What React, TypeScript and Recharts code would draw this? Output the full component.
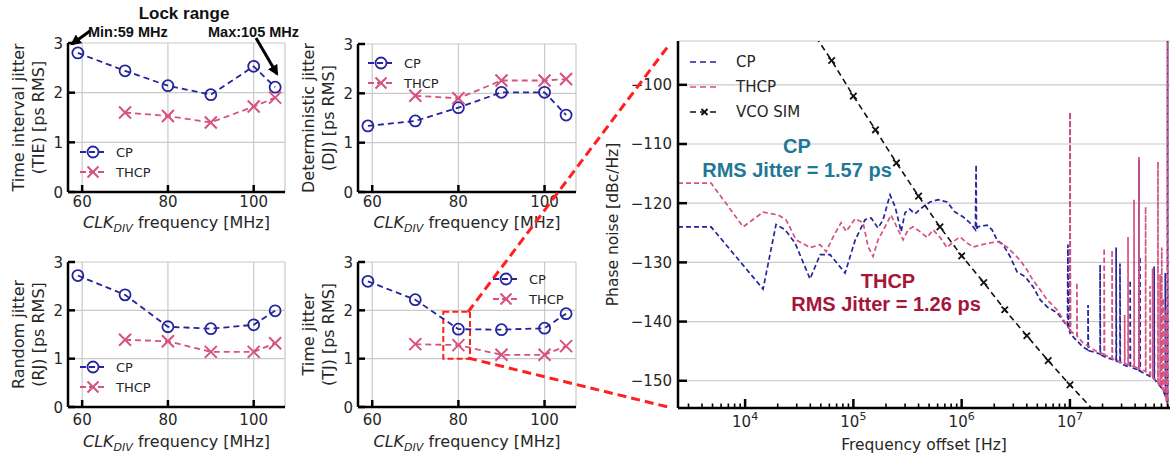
import React from 'react'
import { LineChart, Line, XAxis, YAxis, CartesianGrid, Legend, ReferenceArea } from 'recharts'

// CLK_DIV sweep (MHz) and measured jitter (ps RMS); THCP was not measured at 59 MHz
const freqMHz = [59, 70, 80, 90, 100, 105]
const tieCP = [2.8, 2.44, 2.14, 1.96, 2.53, 2.11]
const tieTHCP = [null, 1.6, 1.53, 1.4, 1.72, 1.9]
const djCP = [1.34, 1.44, 1.71, 2.02, 2.02, 1.56]
const djTHCP = [null, 1.95, 1.9, 2.26, 2.26, 2.29]
const rjCP = [2.72, 2.32, 1.66, 1.62, 1.7, 1.99]
const rjTHCP = [null, 1.39, 1.36, 1.14, 1.14, 1.32]
const tjCP = [2.6, 2.22, 1.61, 1.6, 1.63, 1.93]
const tjTHCP = [null, 1.3, 1.28, 1.08, 1.08, 1.26]
const jitterTicks = [0, 1, 2, 3]
const mhzTicks = [60, 80, 100]

// phase noise at 80 MHz: [offset Hz, dBc/Hz]; spurs are repeated offsets
const cpNoise: [number, number][] = [
  [2400, -124], [4850, -124], [14650, -134.5], [19300, -123.6], [23400, -124.5], [28900, -126.7],
  [39800, -132.8], [49300, -128.7], [61000, -128.7], [83800, -131.8], [104000, -126.2], [128000, -122.8],
  [146000, -122.5], [169000, -124.2], [188000, -122.8], [218000, -118.6], [243000, -120.6], [276000, -124.8],
  [300000, -121.6], [330000, -121], [371000, -121.8], [441000, -120.6], [511000, -119.8], [606000, -119.4],
  [733000, -119.8], [869000, -121.5], [1.03e6, -122.3], [1.19e6, -123.3], [1.34e6, -124.5], [1.36e6, -113.5],
  [1.37e6, -124.5], [1.4e6, -124], [1.72e6, -123.7], [1.91e6, -124.5], [2.12e6, -126.2], [2.41e6, -127],
  [2.8e6, -129], [3.25e6, -131.6], [3.85e6, -132.4], [4.56e6, -134.1], [5.3e6, -136.3], [6.15e6, -137.5],
  [7.6e6, -138.5], [9.5e6, -140.8], [9.58e6, -127], [9.66e6, -141], [1e7, -141.9], [1e7, -104.6],
  [1.01e7, -142.1], [1.32e7, -144.3], [1.47e7, -144.8], [1.47e7, -137.2], [1.48e7, -144.9], [1.78e7, -145.3],
  [1.9e7, -145.5], [1.9e7, -130.4], [1.91e7, -145.6], [2.2e7, -146.1], [2.67e7, -146.6], [2.67e7, -127.5],
  [2.69e7, -146.7], [2.9e7, -146.9], [2.9e7, -130.2], [2.92e7, -147], [3.09e7, -147.3], [3.6e7, -147.7],
  [3.6e7, -133], [3.62e7, -147.7], [4.16e7, -148.1], [4.35e7, -148.2], [4.35e7, -112.7], [4.37e7, -148.3],
  [4.44e7, -148.3], [4.44e7, -129], [4.46e7, -148.4], [5.15e7, -149], [6e7, -149.6], [6e7, -130.7],
  [6.03e7, -149.7], [6.37e7, -150.3], [7.24e7, -151.5], [7.6e7, -152.6], [7.6e7, -131.8], [7.63e7, -152.8],
  [7.95e7, -153.7], [7.98e7, -90], [8.01e7, -154], [8.3e7, -155],
]
const thcpNoise: [number, number][] = [
  [2400, -116.6], [4850, -116.6], [9600, -124], [14650, -121.5], [20200, -122], [23900, -122.8],
  [29600, -126.2], [39800, -127.5], [49300, -127], [56000, -128.2], [65000, -125.7], [77000, -123.3],
  [85700, -124.8], [104000, -122.6], [123000, -123.3], [137000, -127.4], [152000, -129], [169000, -126.2],
  [196000, -124], [223000, -122], [259000, -124.5], [288000, -126.2], [320000, -124.5], [356000, -124],
  [413000, -124.8], [480000, -125.8], [545000, -124.5], [632000, -125.8], [733000, -127.5], [834000, -126.5],
  [967000, -125.7], [1.12e6, -126.7], [1.27e6, -127.4], [1.54e6, -127], [1.83e6, -126.7], [2.17e6, -126.5],
  [2.62e6, -127.4], [2.98e6, -128.4], [3.46e6, -129.6], [4.02e6, -131.3], [4.56e6, -133], [5.3e6, -134.6],
  [6.15e6, -136.3], [7.6e6, -138], [1e7, -141.4], [1e7, -104.6], [1.01e7, -141.6], [1.16e7, -142.4],
  [1.16e7, -133.4], [1.17e7, -142.5], [1.32e7, -143.6], [1.78e7, -145.1], [2.07e7, -145.5], [2.07e7, -127.6],
  [2.09e7, -145.6], [2.35e7, -146.1], [2.45e7, -146.2], [2.45e7, -127.9], [2.47e7, -146.3], [3.09e7, -147],
  [3.2e7, -147.1], [3.2e7, -138.9], [3.22e7, -147.1], [3.44e7, -147.3], [3.44e7, -125.7], [3.46e7, -147.3],
  [3.91e7, -147.6], [3.91e7, -119.4], [3.93e7, -147.6], [4.16e7, -147.8], [4.35e7, -147.9], [4.35e7, -112.2],
  [4.37e7, -148], [5e7, -148.4], [5e7, -120.6], [5.02e7, -148.5], [5.15e7, -148.6], [5.5e7, -149],
  [5.5e7, -134], [5.52e7, -149.1], [5.8e7, -149.4], [5.8e7, -131], [5.82e7, -149.5], [6.37e7, -150.2],
  [6.5e7, -150.3], [6.5e7, -113], [6.52e7, -150.4], [6.8e7, -150.8], [6.8e7, -132], [6.82e7, -150.9],
  [7.05e7, -151.2], [7.05e7, -127.5], [7.07e7, -151.3], [7.3e7, -151.5], [7.3e7, -136], [7.32e7, -151.6],
  [7.5e7, -152], [7.7e7, -152.8], [7.7e7, -138], [7.72e7, -153], [7.95e7, -154.2], [7.98e7, -90],
  [8.01e7, -154.6], [8.3e7, -155.5],
]
const vcoFreq = [4e4, 6.3e4, 1e5, 1.6e5, 2.5e5, 4e5, 6.3e5, 1e6, 1.6e6, 2.5e6, 4e6, 6.3e6, 1e7, 1.6e7]
const vcoNoise = [-90.5, -95.9, -101.9, -107.6, -113.2, -118.8, -124, -128.9, -133.4, -138, -142.4, -146.6, -150.7, -154.7]
const noiseTicks = [-150, -140, -130, -120, -110, -100]
const decades = [1e3, 1e4, 1e5, 1e6, 1e7]
const multiples = [1, 2, 3, 4, 5, 6, 7, 8, 9]

const CP_COLOR = '#24249c'
const THCP_COLOR = '#d6527f'
const TXT = '#262626'
const GRID = '#c9c9c9'
const FRAME = { stroke: '#000', strokeWidth: 2.5 }

const F_MIN = 2400
const F_MAX = 8.4e7
const DB_MIN = -154.6
const DB_MAX = -92.6
const freqTicks = decades.flatMap((d) => multiples.map((m) => m * d)).filter((f) => f >= F_MIN && f <= F_MAX)
const gridDecades = decades.filter((d) => d >= F_MIN && d <= F_MAX)

function XMark({ cx, cy, color, size = 6, width = 2 }: any) {
  if (cx == null || cy == null) return <g />
  return (
    <path
      d={`M${cx - size},${cy - size}L${cx + size},${cy + size}M${cx - size},${cy + size}L${cx + size},${cy - size}`}
      stroke={color}
      strokeWidth={width}
      fill="none"
    />
  )
}

function RingMark({ cx, cy, color, r = 5.5 }: any) {
  if (cx == null || cy == null) return <g />
  return <circle cx={cx} cy={cy} r={r} fill="none" stroke={color} strokeWidth={1.8} />
}

function JitterLegend() {
  return (
    <svg width={100} height={42} style={{ display: 'block' }}>
      <line x1={2} x2={28} y1={10} y2={10} stroke={CP_COLOR} strokeWidth={1.8} strokeDasharray="6 3" />
      <RingMark cx={15} cy={10} color={CP_COLOR} />
      <text x={38} y={15} fontSize={13} fill={TXT}>CP</text>
      <line x1={2} x2={28} y1={30} y2={30} stroke={THCP_COLOR} strokeWidth={1.8} strokeDasharray="6 3" />
      <XMark cx={15} cy={30} color={THCP_COLOR} size={5.5} />
      <text x={38} y={35} fontSize={13} fill={TXT}>THCP</text>
    </svg>
  )
}

function NoiseLegend() {
  const rows = [
    { name: 'CP', color: CP_COLOR, mark: false },
    { name: 'THCP', color: THCP_COLOR, mark: false },
    { name: 'VCO SIM', color: '#111', mark: true },
  ]
  return (
    <svg width={130} height={76} style={{ display: 'block' }}>
      {rows.map((r, i) => (
        <g key={r.name}>
          <line x1={2} x2={31} y1={12 + i * 25} y2={12 + i * 25} stroke={r.color} strokeWidth={1.6} strokeDasharray="6 4" />
          {r.mark && <XMark cx={16.5} cy={12 + i * 25} color="#111" size={3} width={1.8} />}
          <text x={48} y={17 + i * 25} fontSize={15} fill={TXT}>{r.name}</text>
        </g>
      ))}
    </svg>
  )
}

type JitterProps = {
  left: number
  top: number
  height: number
  marginTop: number
  marginRight: number
  xAxisHeight: number
  cp: (number | null)[]
  thcp: (number | null)[]
  title: string
  subtitle: string
  tickDy: number
  labelDy: number
  legendLeft: number
  legendTop: number
  zoomBox?: boolean
}

function JitterChart(p: JitterProps) {
  const rows = freqMHz.map((f, i) => ({ f, cp: p.cp[i], thcp: p.thcp[i] }))
  return (
    <div style={{ position: 'absolute', left: p.left, top: p.top }}>
      <LineChart width={300} height={p.height} data={rows} margin={{ top: p.marginTop, right: p.marginRight, left: 0, bottom: 0 }}>
        <CartesianGrid stroke={GRID} strokeWidth={1.2} />
        <XAxis
          dataKey="f"
          type="number"
          domain={[56.7, 107.3]}
          ticks={mhzTicks}
          height={p.xAxisHeight}
          tickSize={0}
          tickMargin={0}
          axisLine={FRAME}
          tick={(t: any) => (
            <g>
              <line x1={t.x} x2={t.x} y1={t.y} y2={t.y - 7} stroke="#000" strokeWidth={2.5} />
              <text x={t.x} y={t.y + p.tickDy} textAnchor="middle" fontSize={15} fill={TXT}>{t.payload.value}</text>
            </g>
          )}
          label={{
            content: ({ viewBox }: any) => (
              <text x={viewBox.x + viewBox.width / 2} y={viewBox.y + p.labelDy} textAnchor="middle" fontSize={16} fill={TXT}>
                <tspan fontStyle="italic">CLK</tspan>
                <tspan fontStyle="italic" fontSize={11} dy={4}>DIV</tspan>
                <tspan dy={-4}> frequency [MHz]</tspan>
              </text>
            ),
          }}
        />
        <XAxis
          xAxisId="top"
          orientation="top"
          type="number"
          domain={[56.7, 107.3]}
          ticks={mhzTicks}
          height={0}
          tickSize={0}
          tickMargin={0}
          axisLine={FRAME}
          tick={(t: any) => <line x1={t.x} x2={t.x} y1={t.y} y2={t.y + 7} stroke="#000" strokeWidth={2.5} />}
        />
        <YAxis
          type="number"
          domain={[0, 3]}
          ticks={jitterTicks}
          width={68}
          tickSize={0}
          tickMargin={0}
          axisLine={FRAME}
          tick={(t: any) => (
            <g>
              <line x1={t.x} x2={t.x + 7} y1={t.y} y2={t.y} stroke="#000" strokeWidth={2.5} />
              <text x={t.x - 5} y={t.y + 5.5} textAnchor="end" fontSize={15} fill={TXT}>{t.payload.value}</text>
            </g>
          )}
          label={{
            content: ({ viewBox }: any) => {
              const cy = viewBox.y + viewBox.height / 2
              return (
                <g>
                  <text x={viewBox.x + 18} y={cy} transform={`rotate(-90 ${viewBox.x + 18} ${cy})`} textAnchor="middle" dominantBaseline="central" fontSize={16} fill={TXT}>{p.title}</text>
                  <text x={viewBox.x + 38} y={cy} transform={`rotate(-90 ${viewBox.x + 38} ${cy})`} textAnchor="middle" dominantBaseline="central" fontSize={16} fill={TXT}>{p.subtitle}</text>
                </g>
              )
            },
          }}
        />
        <YAxis
          yAxisId="right"
          orientation="right"
          type="number"
          domain={[0, 3]}
          ticks={jitterTicks}
          width={0}
          tickSize={0}
          tickMargin={0}
          axisLine={FRAME}
          tick={(t: any) => <line x1={t.x} x2={t.x - 7} y1={t.y} y2={t.y} stroke="#000" strokeWidth={2.5} />}
        />
        {p.zoomBox && (
          <ReferenceArea x1={76.5} x2={82.7} y1={1.0} y2={1.97} fill="none" fillOpacity={0} stroke="#ff1f1f" strokeWidth={2} strokeDasharray="6 3" />
        )}
        <Line
          dataKey="cp"
          stroke={CP_COLOR}
          strokeWidth={1.8}
          strokeDasharray="6 4"
          isAnimationActive={false}
          dot={(d: any) => <RingMark key={`c${d.index}`} cx={d.cx} cy={d.cy} color={CP_COLOR} />}
        />
        <Line
          dataKey="thcp"
          stroke={THCP_COLOR}
          strokeWidth={1.8}
          strokeDasharray="6 4"
          isAnimationActive={false}
          dot={(d: any) => <XMark key={`x${d.index}`} cx={d.value == null ? null : d.cx} cy={d.value == null ? null : d.cy} color={THCP_COLOR} size={6} />}
        />
        <Legend
          layout="vertical"
          align="center"
          verticalAlign="middle"
          wrapperStyle={{ left: p.legendLeft, top: p.legendTop, width: 100, height: 42 }}
          content={() => <JitterLegend />}
        />
      </LineChart>
    </div>
  )
}

function PhaseNoiseChart() {
  const cpRows = cpNoise.map(([f, v]) => ({ f, v }))
  const thcpRows = thcpNoise.map(([f, v]) => ({ f, v }))
  const vcoRows = vcoFreq.map((f, i) => ({ f, v: vcoNoise[i] }))
  const isMajor = (v: number) => Math.abs(Math.log10(v) - Math.round(Math.log10(v))) < 1e-9
  return (
    <div style={{ position: 'absolute', left: 600, top: 0 }}>
      <LineChart width={572} height={459} margin={{ top: 41, right: 2, left: 0, bottom: 0 }}>
        <CartesianGrid
          stroke={GRID}
          strokeWidth={1.2}
          verticalCoordinatesGenerator={({ xAxis }: any) =>
            xAxis && typeof xAxis.scale === 'function' ? gridDecades.map((d) => xAxis.scale(d)) : []
          }
        />
        <XAxis
          dataKey="f"
          type="number"
          scale="log"
          domain={[F_MIN, F_MAX]}
          allowDataOverflow
          ticks={freqTicks}
          interval={0}
          height={51}
          tickSize={0}
          tickMargin={0}
          axisLine={FRAME}
          tick={(t: any) => {
            const major = isMajor(t.payload.value)
            return (
              <g>
                <line x1={t.x} x2={t.x} y1={t.y} y2={t.y - (major ? 9 : 4.5)} stroke="#000" strokeWidth={major ? 2.5 : 1.6} />
                {major && (
                  <text x={t.x} y={t.y + 19} textAnchor="middle" fontSize={15} fill={TXT}>
                    <tspan>10</tspan>
                    <tspan dy={-7} fontSize={11}>{Math.round(Math.log10(t.payload.value))}</tspan>
                  </text>
                )}
              </g>
            )
          }}
          label={{
            content: ({ viewBox }: any) => (
              <text x={viewBox.x + viewBox.width / 2} y={viewBox.y + 42} textAnchor="middle" fontSize={15.5} fill={TXT}>Frequency offset [Hz]</text>
            ),
          }}
        />
        <XAxis
          xAxisId="top"
          orientation="top"
          type="number"
          scale="log"
          domain={[F_MIN, F_MAX]}
          allowDataOverflow
          ticks={freqTicks}
          interval={0}
          height={0}
          tickSize={0}
          tickMargin={0}
          axisLine={FRAME}
          tick={(t: any) => {
            const major = isMajor(t.payload.value)
            return <line x1={t.x} x2={t.x} y1={t.y} y2={t.y + (major ? 9 : 4.5)} stroke="#000" strokeWidth={major ? 2.5 : 1.6} />
          }}
        />
        <YAxis
          type="number"
          domain={[DB_MIN, DB_MAX]}
          allowDataOverflow
          ticks={noiseTicks}
          width={78}
          tickSize={0}
          tickMargin={0}
          axisLine={FRAME}
          tick={(t: any) => (
            <g>
              <line x1={t.x} x2={t.x + 9} y1={t.y} y2={t.y} stroke="#000" strokeWidth={2.5} />
              <text x={t.x - 6} y={t.y + 5.5} textAnchor="end" fontSize={15} fill={TXT}>{String(t.payload.value).replace('-', '\u2212')}</text>
            </g>
          )}
          label={{
            content: ({ viewBox }: any) => {
              const cy = viewBox.y + viewBox.height / 2
              return (
                <text x={viewBox.x + 13} y={cy} transform={`rotate(-90 ${viewBox.x + 13} ${cy})`} textAnchor="middle" dominantBaseline="central" fontSize={15.5} fill={TXT}>Phase noise [dBc/Hz]</text>
              )
            },
          }}
        />
        <YAxis
          yAxisId="right"
          orientation="right"
          type="number"
          domain={[DB_MIN, DB_MAX]}
          allowDataOverflow
          ticks={noiseTicks}
          width={0}
          tickSize={0}
          tickMargin={0}
          axisLine={FRAME}
          tick={(t: any) => <line x1={t.x} x2={t.x - 9} y1={t.y} y2={t.y} stroke="#000" strokeWidth={2.5} />}
        />
        <Line data={cpRows} dataKey="v" stroke={CP_COLOR} strokeWidth={1.7} strokeDasharray="5 3" dot={false} isAnimationActive={false} />
        <Line data={thcpRows} dataKey="v" stroke={THCP_COLOR} strokeWidth={1.7} strokeDasharray="5 3" dot={false} isAnimationActive={false} />
        <Line
          data={vcoRows}
          dataKey="v"
          stroke="#111"
          strokeWidth={1.6}
          strokeDasharray="6 4"
          isAnimationActive={false}
          dot={(d: any) =>
            d.value > DB_MIN + 0.5 && d.value < DB_MAX - 0.5 ? (
              <XMark key={`v${d.index}`} cx={d.cx} cy={d.cy} color="#111" size={3.2} width={1.8} />
            ) : (
              <g key={`v${d.index}`} />
            )
          }
        />
        <Legend
          layout="vertical"
          align="center"
          verticalAlign="middle"
          wrapperStyle={{ left: 88, top: 50, width: 130, height: 76 }}
          content={() => <NoiseLegend />}
        />
      </LineChart>
    </div>
  )
}

function Annotations() {
  const bold = { fontFamily: '"Liberation Sans", Arial, sans-serif', fontWeight: 700 }
  return (
    <svg width={1172} height={459} style={{ position: 'absolute', left: 0, top: 0, pointerEvents: 'none' }}>
      <defs>
        <marker id="head" viewBox="0 0 10 10" refX="8" refY="5" markerWidth="3.6" markerHeight="3.6" orient="auto">
          <path d="M0,0 L10,5 L0,10 z" fill="#000" />
        </marker>
      </defs>
      <text x={184} y={19} textAnchor="middle" fontSize={17} fill="#111" {...bold}>Lock range</text>
      <text x={88} y={37} fontSize={14.5} fill="#111" {...bold}>Min:59 MHz</text>
      <text x={208} y={37} fontSize={14.5} fill="#111" {...bold}>Max:105 MHz</text>
      <line x1={90} y1={31} x2={72} y2={44} stroke="#000" strokeWidth={3} markerEnd="url(#head)" />
      <line x1={256} y1={38} x2={277} y2={74} stroke="#000" strokeWidth={3} markerEnd="url(#head)" />
      <line x1={468} y1={312} x2={669} y2={45} stroke="#ff1f1f" strokeWidth={3} strokeDasharray="9 5" />
      <line x1={468} y1={358} x2={672} y2={408} stroke="#ff1f1f" strokeWidth={3} strokeDasharray="9 5" />
      <text x={797} y={153} textAnchor="middle" fontSize={20} fill="#1f7896" {...bold}>CP</text>
      <text x={797} y={177} textAnchor="middle" fontSize={20} fill="#1f7896" {...bold}>RMS Jitter = 1.57 ps</text>
      <text x={888} y={288} textAnchor="middle" fontSize={20} fill="#a6153a" {...bold}>THCP</text>
      <text x={886} y={311} textAnchor="middle" fontSize={20} fill="#a6153a" {...bold}>RMS Jitter = 1.26 ps</text>
    </svg>
  )
}

export default function App() {
  return (
    <div style={{ position: 'absolute', left: 0, top: 0, width: 1172, height: 459, background: '#fff', fontFamily: '"DejaVu Sans", sans-serif', overflow: 'hidden' }}>
      <PhaseNoiseChart />
      <JitterChart left={0} top={0} height={236} marginTop={43} marginRight={15} xAxisHeight={44} cp={tieCP} thcp={tieTHCP}
        title="Time interval jitter" subtitle="(TIE) [ps RMS]" tickDy={15} labelDy={36} legendLeft={78} legendTop={142} />
      <JitterChart left={290} top={0} height={236} marginTop={44} marginRight={14} xAxisHeight={44} cp={djCP} thcp={djTHCP}
        title="Deterministic jitter" subtitle="(DJ) [ps RMS]" tickDy={15} labelDy={36} legendLeft={76} legendTop={53} />
      <JitterChart left={0} top={230} height={229} marginTop={32} marginRight={15} xAxisHeight={52} cp={rjCP} thcp={rjTHCP}
        title="Random jitter" subtitle="(RJ) [ps RMS]" tickDy={18} labelDy={40} legendLeft={78} legendTop={127} />
      <JitterChart left={290} top={230} height={229} marginTop={32} marginRight={14} xAxisHeight={52} cp={tjCP} thcp={tjTHCP}
        title="Time jitter" subtitle="(TJ) [ps RMS]" tickDy={18} labelDy={40} legendLeft={201} legendTop={39} zoomBox />
      <Annotations />
    </div>
  )
}
